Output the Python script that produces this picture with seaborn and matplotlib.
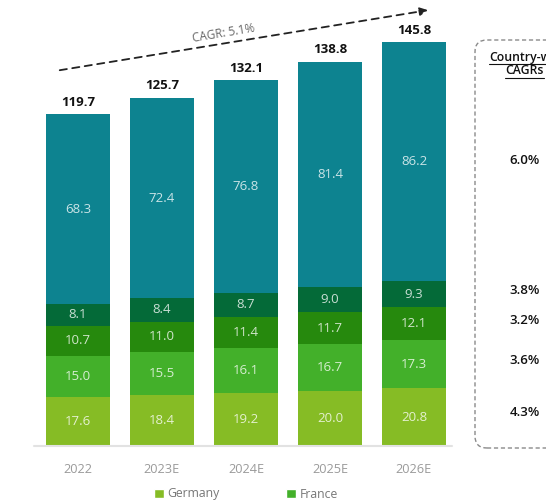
import matplotlib
matplotlib.use("Agg")
import matplotlib.pyplot as plt
import seaborn as sns
import numpy as np
from matplotlib.patches import FancyBboxPatch, Patch
from matplotlib.lines import Line2D

sns.set_theme(style="white")
plt.rcParams['font.family'] = ['Open Sans', 'DejaVu Sans']

years = ["2022", "2023E", "2024E", "2025E", "2026E"]
germany = [17.6, 18.4, 19.2, 20.0, 20.8]
france = [15.0, 15.5, 16.1, 16.7, 17.3]
uk = [10.7, 11.0, 11.4, 11.7, 12.1]
italy = [8.1, 8.4, 8.7, 9.0, 9.3]
rest = [68.3, 72.4, 76.8, 81.4, 86.2]
totals = [119.7, 125.7, 132.1, 138.8, 145.8]
series_names = ["Germany", "France", "UK", "Italy", "Rest of Europe"]
country_cagrs = ["4.3%", "3.6%", "3.2%", "3.8%", "6.0%"]
overall_cagr = "CAGR: 5.1%"

colors = ["#86BC25", "#43B02A", "#26890D", "#046A38", "#0D8390"]
series = [germany, france, uk, italy, rest]

W, H = 546, 504
fig = plt.figure(figsize=(W / 100, H / 100), dpi=100)
px_per_unit = 2.77
base_px = 446
x0_px = 36
cat_px = 84
right_px = 546
ax = fig.add_axes([x0_px / W, 1 - base_px / H, (right_px - x0_px) / W, base_px / H])
xmax = (right_px - 78) / cat_px

bottom = np.zeros(len(years))
for vals, col in zip(series, colors):
    sns.barplot(x=years, y=vals, bottom=bottom, color=col, width=0.77,
                linewidth=0, saturation=1, ax=ax)
    for i, v in enumerate(vals):
        ax.text(i, bottom[i] + v / 2, f"{v:.1f}", ha="center", va="center",
                color="white", alpha=0.78, fontsize=9.5)
    bottom = bottom + np.array(vals)

for i, t in enumerate(totals):
    ax.text(i, t + 2.0, f"{t:.1f}", ha="center", va="bottom",
            fontsize=9.5, fontweight="bold", color="#111111")

ax.set_xlim(-0.5, xmax)
ax.set_ylim(0, base_px / px_per_unit)
for s in ax.spines.values():
    s.set_visible(False)
ax.set_yticks([])
ax.set_xlabel("")
ax.tick_params(axis="x", length=0, pad=12, labelsize=9.2, labelcolor="#9a9a9a")
ax.plot([-0.52, 4.45], [0, 0], color="#e2e2e2", lw=1.5, clip_on=False)

# CAGR arrow
ax.annotate("", xy=(4.2, 157.5), xytext=(-0.25, 135.5),
            arrowprops=dict(arrowstyle="-|>", color="#222222", lw=1.3,
                            linestyle=(0, (4, 3)), mutation_scale=12))
ax.text((224 - 78) / cat_px, (446 - 33) / px_per_unit, overall_cagr,
        rotation=9.5, ha="center", va="center", fontsize=8.5, color="#666666")

# country-wise CAGR box (pixel coordinates, y from the top)
def fx(x):
    return x / W

def fy(y):
    return 1 - y / H

box = FancyBboxPatch((475, H - 448), 120, 408,
                     boxstyle="round,pad=0,rounding_size=12",
                     transform=None, fill=False, ec="#8a8a8a", lw=1.0,
                     ls=(0, (3, 2)))
fig.add_artist(box)
fig.text(fx(489), fy(57), "Country-wise", ha="left", va="center",
         fontsize=8.8, fontweight="semibold", color="#111111")
fig.text(fx(524.5), fy(71), "CAGRs", ha="center", va="center",
         fontsize=8.8, fontweight="semibold", color="#111111")
fig.add_artist(Line2D([fx(489), fx(560)], [fy(63.5), fy(63.5)],
                      transform=fig.transFigure, color="#111111", lw=0.8))
fig.add_artist(Line2D([fx(505), fx(544)], [fy(77.5), fy(77.5)],
                      transform=fig.transFigure, color="#111111", lw=0.8))
ypos_px = [412, 361, 321, 291, 161]
for lab, yp in zip(country_cagrs, ypos_px):
    fig.text(fx(525), fy(yp), lab, ha="center", va="center",
             fontsize=9.5, fontweight="semibold", color="#111111")

handles = [Patch(facecolor=colors[0], label=series_names[0]),
           Patch(facecolor=colors[1], label=series_names[1])]
fig.legend(handles=handles, loc="center", bbox_to_anchor=(246 / W, 1 - 494 / H),
           ncol=2, frameon=False, fontsize=8.8, handlelength=0.8, handleheight=0.8,
           handletextpad=0.3, columnspacing=5.4, labelcolor="#777777")

fig.savefig("out.png", dpi=100)
